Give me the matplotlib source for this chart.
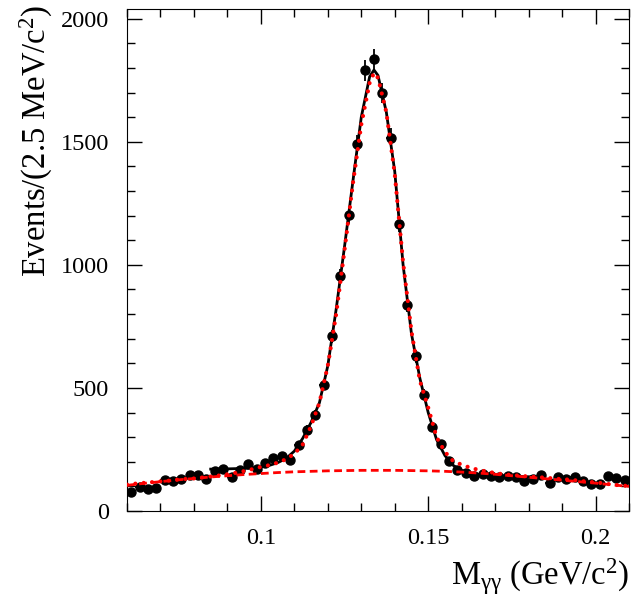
import numpy as np
import matplotlib
matplotlib.use("Agg")
import matplotlib.pyplot as plt
from matplotlib.ticker import MultipleLocator

plt.rcParams['font.family'] = ['Liberation Serif', 'DejaVu Serif']
plt.rcParams['mathtext.fontset'] = 'custom'
plt.rcParams['mathtext.rm'] = 'Liberation Serif'
plt.rcParams['mathtext.it'] = 'Liberation Serif:italic'
plt.rcParams['mathtext.default'] = 'regular'

# data: 2.5 MeV bins from 0.06 to 0.21 GeV
bin_lo = 0.06
bin_w = 0.0025
counts = [79, 99, 88, 94, 125, 121, 131, 145, 148, 129,
          164, 171, 137, 167, 192, 172, 193, 214, 222, 206,
          266, 330, 391, 513, 709, 954, 1202, 1490, 1791, 1836,
          1700, 1517, 1167, 838, 628, 472, 343, 271, 201, 167,
          156, 142, 149, 144, 136, 142, 137, 123, 129, 145,
          115, 136, 129, 136, 123, 110, 110, 140, 133, 126]

# total fit (solid black)
fit_x = [0.0850, 0.0875, 0.0900, 0.0925, 0.0950, 0.0975, 0.1000, 0.1025, 0.1050,
         0.1075, 0.1100, 0.1125, 0.1150, 0.1175, 0.1200, 0.1225, 0.1250, 0.1275,
         0.1300, 0.1325, 0.1338, 0.1350, 0.1375, 0.1400, 0.1425, 0.1450, 0.1475,
         0.1500, 0.1525, 0.1550, 0.1575, 0.1600, 0.1625, 0.1650, 0.1675, 0.1700,
         0.1725, 0.1750, 0.1775, 0.1800, 0.1825, 0.1840]
fit_y = [170, 170, 171, 172, 173, 175, 178, 185, 196,
         213, 243, 295, 360, 440, 590, 820, 1075, 1340,
         1600, 1765, 1792, 1770, 1620, 1380, 1000, 720, 540,
         400, 290, 225, 185, 165, 155, 149, 145, 143,
         142, 141, 140, 139, 138, 138]

# second fit (red dotted)
alt_x = [0.0600, 0.0625, 0.0650, 0.0675, 0.0700, 0.0725, 0.0750, 0.0775, 0.0800,
         0.0825, 0.0850, 0.0875, 0.0900, 0.0925, 0.0950, 0.0975, 0.1000, 0.1025,
         0.1050, 0.1075, 0.1100, 0.1125, 0.1150, 0.1175, 0.1200, 0.1225, 0.1250,
         0.1275, 0.1300, 0.1325, 0.1338, 0.1350, 0.1375, 0.1400, 0.1425, 0.1450,
         0.1475, 0.1500, 0.1525, 0.1550, 0.1575, 0.1600, 0.1625, 0.1650, 0.1675,
         0.1700, 0.1725, 0.1750, 0.1775, 0.1800, 0.1825, 0.1850, 0.1875, 0.1900,
         0.1925, 0.1950, 0.1975, 0.2000, 0.2025, 0.2050, 0.2075, 0.2100]
alt_y = [107, 111, 114, 117, 120, 123, 127, 130, 132,
         136, 140, 144, 149, 155, 162, 170, 179, 186,
         196, 210, 232, 270, 345, 440, 590, 800, 1060,
         1330, 1570, 1740, 1780, 1760, 1620, 1370, 1010, 730,
         530, 420, 300, 240, 202, 188, 176, 167, 160,
         154, 149, 146, 143, 140, 138, 135, 132, 129,
         127, 123, 119, 116, 112, 107, 104, 101]

# background (red dashed)
bkg_x = [0.060, 0.065, 0.070, 0.075, 0.080, 0.085, 0.090, 0.095, 0.100, 0.105, 0.110,
         0.115, 0.120, 0.125, 0.130, 0.135, 0.140, 0.145, 0.150, 0.155, 0.160,
         0.165, 0.170, 0.175, 0.180, 0.185, 0.190, 0.195, 0.200, 0.205, 0.210]
bkg_y = [104, 112, 119, 126, 132, 138, 143, 148, 152, 156, 159,
         161, 163, 164, 165, 165, 165, 164, 163, 161, 158,
         154, 149, 143, 137, 131, 125, 119, 113, 106, 100]

centers = bin_lo + bin_w * (np.arange(len(counts)) + 0.5)
counts = np.array(counts)

fig = plt.figure(figsize=(6.31, 5.99), dpi=100)
ax = fig.add_axes([0.2013, 0.147, 0.7955, 0.838])

ax.errorbar(centers, counts, yerr=np.sqrt(counts), xerr=bin_w / 2, fmt='o',
            color='black', markersize=6.5, elinewidth=1.3, capsize=0, zorder=3)
ax.plot(fit_x, fit_y, color='black', lw=2, zorder=4)
ax.plot(bkg_x, bkg_y, color='red', lw=2, linestyle=(0, (2.8, 1.6)), zorder=5)
ax.plot(alt_x, alt_y, color='red', lw=3, linestyle=(0, (0.01, 2.0)),
        dash_capstyle='round', zorder=6)

ax.set_xlim(0.06, 0.21)
ax.set_ylim(0, 2040)
ax.xaxis.set_major_locator(MultipleLocator(0.05))
ax.xaxis.set_minor_locator(MultipleLocator(0.01))
ax.yaxis.set_major_locator(MultipleLocator(500))
ax.yaxis.set_minor_locator(MultipleLocator(100))
ax.tick_params(which='both', direction='in', top=True, right=True, labelsize=17.5)
ax.tick_params(which='major', length=11, width=1)
ax.tick_params(which='minor', length=6, width=1)
ax.xaxis.set_tick_params(pad=12)
ax.yaxis.set_tick_params(pad=13)
ax.set_xticks([0.1, 0.15, 0.2])
ax.set_xticklabels(['0.1', '0.15', '0.2'])

fig.text(0.997, 0.004, r'M$_{\gamma\gamma}$ (GeV/c$^{2}$)', ha='right', va='bottom', fontsize=23.5)
fig.text(0.058, 0.992, r'Events/(2.5 MeV/c$^{2}$)', rotation=90, ha='center', va='top', fontsize=23.5)

fig.savefig('out.png', dpi=100)
